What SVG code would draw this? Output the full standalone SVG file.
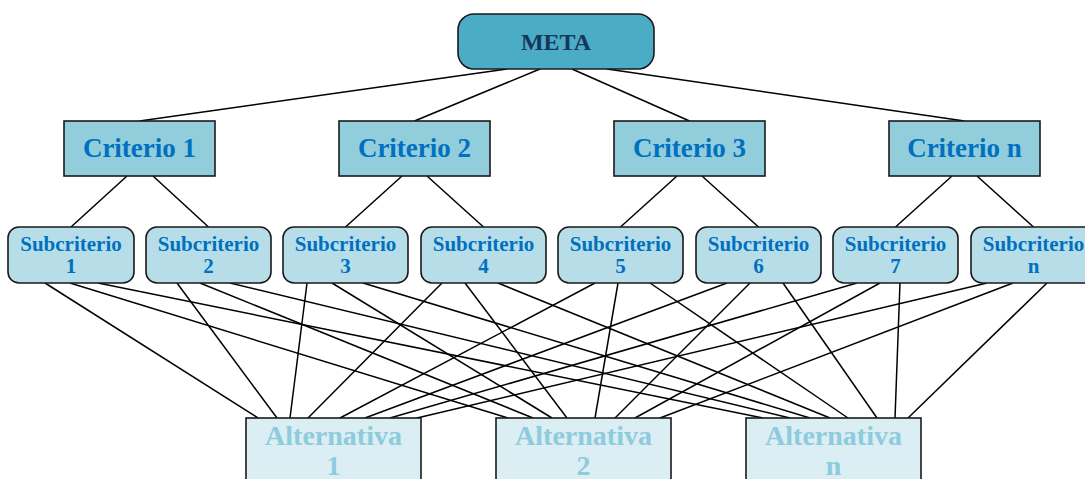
<svg xmlns="http://www.w3.org/2000/svg" width="1085" height="479" viewBox="0 0 1085 479">
<style>
.ln{stroke:#000;stroke-width:1.5;fill:none}
.box{stroke:#1a1a1a;stroke-width:1.6}
.meta{fill:#4BACC6}
.crit{fill:#92CDDC}
.sub{fill:#B7DEE8}
.alt{fill:#DAEEF3}
text{font-family:"Liberation Serif","Times New Roman",serif;font-weight:bold;text-anchor:middle}
.tm{font-size:24px;fill:#17365D}
.tc{font-size:27px;fill:#0070C0}
.ts{font-size:21px;fill:#0070C0}
.ta{font-size:28px;fill:#8ECBDD}
</style>
<rect width="1085" height="479" fill="#fff"/>
<g id="connectors">
<line class="ln" x1="507" y1="69" x2="139.5" y2="121"/>
<line class="ln" x1="540" y1="69" x2="414.5" y2="121"/>
<line class="ln" x1="572" y1="69" x2="689.5" y2="121"/>
<line class="ln" x1="607" y1="69" x2="964.5" y2="121"/>
<line class="ln" x1="127" y1="176" x2="71" y2="227"/>
<line class="ln" x1="153" y1="176" x2="208.5" y2="227"/>
<line class="ln" x1="402" y1="176" x2="345.5" y2="227"/>
<line class="ln" x1="427" y1="176" x2="483.5" y2="227"/>
<line class="ln" x1="677" y1="176" x2="620.5" y2="227"/>
<line class="ln" x1="702" y1="176" x2="758.5" y2="227"/>
<line class="ln" x1="952" y1="176" x2="895.5" y2="227"/>
<line class="ln" x1="977" y1="176" x2="1033.5" y2="227"/>
<line class="ln" x1="45" y1="283" x2="258" y2="418"/>
<line class="ln" x1="70" y1="283" x2="508" y2="418"/>
<line class="ln" x1="98" y1="283" x2="763" y2="418"/>
<line class="ln" x1="177" y1="283" x2="277" y2="418"/>
<line class="ln" x1="200" y1="283" x2="533" y2="418"/>
<line class="ln" x1="230" y1="283" x2="790" y2="418"/>
<line class="ln" x1="307" y1="283" x2="290" y2="418"/>
<line class="ln" x1="332" y1="283" x2="552" y2="418"/>
<line class="ln" x1="363" y1="283" x2="810" y2="418"/>
<line class="ln" x1="442" y1="283" x2="308" y2="418"/>
<line class="ln" x1="465" y1="283" x2="567" y2="418"/>
<line class="ln" x1="498" y1="283" x2="830" y2="418"/>
<line class="ln" x1="595" y1="283" x2="340" y2="418"/>
<line class="ln" x1="618" y1="283" x2="595" y2="418"/>
<line class="ln" x1="650" y1="283" x2="848" y2="418"/>
<line class="ln" x1="727" y1="283" x2="365" y2="418"/>
<line class="ln" x1="750" y1="283" x2="615" y2="418"/>
<line class="ln" x1="783" y1="283" x2="877" y2="418"/>
<line class="ln" x1="857" y1="283" x2="390" y2="418"/>
<line class="ln" x1="880" y1="283" x2="635" y2="418"/>
<line class="ln" x1="900" y1="283" x2="895" y2="418"/>
<line class="ln" x1="987" y1="283" x2="417" y2="418"/>
<line class="ln" x1="1013" y1="283" x2="660" y2="418"/>
<line class="ln" x1="1047" y1="283" x2="908" y2="418"/>
</g>
<g id="meta"><rect class="box meta" x="458" y="14" width="196" height="55" rx="16"/><text class="tm" x="556" y="50">META</text></g>
<g id="criterio1"><rect class="box crit" x="64" y="121" width="151" height="55"/><text class="tc" x="139.5" y="157">Criterio 1</text></g>
<g id="criterio2"><rect class="box crit" x="339" y="121" width="151" height="55"/><text class="tc" x="414.5" y="157">Criterio 2</text></g>
<g id="criterio3"><rect class="box crit" x="614" y="121" width="151" height="55"/><text class="tc" x="689.5" y="157">Criterio 3</text></g>
<g id="criterion"><rect class="box crit" x="889" y="121" width="151" height="55"/><text class="tc" x="964.5" y="157">Criterio n</text></g>
<g id="sub1"><rect class="box sub" x="8" y="227" width="126" height="56" rx="11"/><text class="ts" x="71" y="251">Subcriterio</text><text class="ts" x="71" y="273">1</text></g>
<g id="sub2"><rect class="box sub" x="146" y="227" width="125" height="56" rx="11"/><text class="ts" x="208.5" y="251">Subcriterio</text><text class="ts" x="208.5" y="273">2</text></g>
<g id="sub3"><rect class="box sub" x="283" y="227" width="125" height="56" rx="11"/><text class="ts" x="345.5" y="251">Subcriterio</text><text class="ts" x="345.5" y="273">3</text></g>
<g id="sub4"><rect class="box sub" x="421" y="227" width="125" height="56" rx="11"/><text class="ts" x="483.5" y="251">Subcriterio</text><text class="ts" x="483.5" y="273">4</text></g>
<g id="sub5"><rect class="box sub" x="558" y="227" width="125" height="56" rx="11"/><text class="ts" x="620.5" y="251">Subcriterio</text><text class="ts" x="620.5" y="273">5</text></g>
<g id="sub6"><rect class="box sub" x="696" y="227" width="125" height="56" rx="11"/><text class="ts" x="758.5" y="251">Subcriterio</text><text class="ts" x="758.5" y="273">6</text></g>
<g id="sub7"><rect class="box sub" x="833" y="227" width="125" height="56" rx="11"/><text class="ts" x="895.5" y="251">Subcriterio</text><text class="ts" x="895.5" y="273">7</text></g>
<g id="subn"><rect class="box sub" x="971" y="227" width="125" height="56" rx="11"/><text class="ts" x="1033.5" y="251">Subcriterio</text><text class="ts" x="1033.5" y="273">n</text></g>
<g id="alt1"><rect class="box alt" x="246" y="418" width="175" height="75"/><text class="ta" x="333.5" y="445">Alternativa</text><text class="ta" x="333.5" y="475">1</text></g>
<g id="alt2"><rect class="box alt" x="496" y="418" width="175" height="75"/><text class="ta" x="583.5" y="445">Alternativa</text><text class="ta" x="583.5" y="475">2</text></g>
<g id="altn"><rect class="box alt" x="746" y="418" width="175" height="75"/><text class="ta" x="833.5" y="445">Alternativa</text><text class="ta" x="833.5" y="475">n</text></g>
</svg>
